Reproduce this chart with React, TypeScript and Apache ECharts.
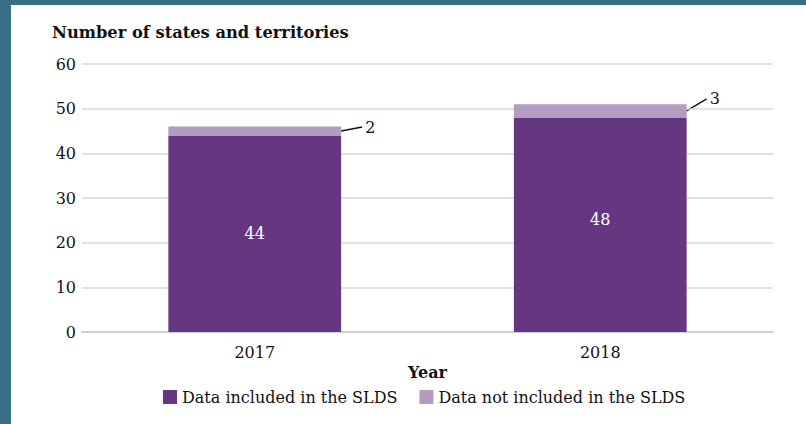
import React, { useEffect, useRef } from "react";
import * as echarts from "echarts";

const years = ["2017", "2018"];
const included = [44, 48];
const notIncluded = [2, 3];

const FONT = "'DejaVu Serif', serif";
const TEAL = "#3a6e86";

export default function App() {
  const ref = useRef<HTMLDivElement>(null);
  useEffect(() => {
    const chart = echarts.init(ref.current!, null, { renderer: "svg" });
    const baseGraphic: any[] = [
      { type: "rect", left: 0, top: 0, shape: { width: 806, height: 5 }, style: { fill: TEAL } },
      { type: "rect", left: 0, top: 0, shape: { width: 11, height: 424 }, style: { fill: TEAL } },
      {
        type: "text",
        left: 52,
        top: 24,
        style: { text: "Number of states and territories", font: "bold 16.3px 'DejaVu Serif', serif", fill: "#111" },
      },
    ];
    chart.setOption({
      animation: false,
      backgroundColor: "#ffffff",
      textStyle: { fontFamily: FONT },
      graphic: baseGraphic,
      grid: { left: 82, right: 33, top: 64, bottom: 92 },
      legend: {
        bottom: 14,
        left: 158,
        itemWidth: 14,
        itemHeight: 14,
        itemGap: 22,
        icon: "rect",
        textStyle: { fontFamily: FONT, fontSize: 16, color: "#111" },
        data: ["Data included in the SLDS", "Data not included in the SLDS"],
      },
      xAxis: {
        type: "category",
        data: years,
        name: "Year",
        nameLocation: "middle",
        nameGap: 28,
        nameTextStyle: { fontFamily: FONT, fontWeight: "bold", fontSize: 16, color: "#111" },
        axisTick: { show: false },
        axisLine: { lineStyle: { color: "#cfcfcf", width: 2 } },
        axisLabel: { fontFamily: FONT, fontSize: 16, color: "#111", margin: 12 },
      },
      yAxis: {
        type: "value",
        min: 0,
        max: 60,
        interval: 10,
        axisLabel: { fontFamily: FONT, fontSize: 16, color: "#111", margin: 6 },
        splitLine: { lineStyle: { color: "#d9d9d9", width: 1.5 } },
        axisLine: { show: false },
        axisTick: { show: false },
      },
      series: [
        {
          name: "Data included in the SLDS",
          type: "bar",
          stack: "total",
          barWidth: "50%",
          data: included,
          itemStyle: { color: "#663781" },
          label: {
            show: true,
            position: "inside",
            color: "#ffffff",
            fontFamily: FONT,
            fontSize: 16,
          },
          labelLayout: (p: any) => (p.dataIndex === 1 ? { dy: -5 } : {}),
        },
        {
          name: "Data not included in the SLDS",
          type: "bar",
          stack: "total",
          barWidth: "50%",
          data: notIncluded,
          itemStyle: { color: "#b39bc1" },
        },
      ],
    });

    // callout lines + labels for the small top segments, placed via the chart's scales
    const offsets = [
      { dx: 21, dy: -4 },
      { dx: 20, dy: -12 },
    ];
    const x0 = chart.convertToPixel({ gridIndex: 0 }, [0, 0]) as number[];
    const x1 = chart.convertToPixel({ gridIndex: 0 }, [1, 0]) as number[];
    const half = (x1[0] - x0[0]) * 0.25;
    const extra: any[] = [];
    years.forEach((_, i) => {
      const mid = included[i] + notIncluded[i] / 2;
      const p = chart.convertToPixel({ gridIndex: 0 }, [i, mid]) as number[];
      const sx = p[0] + half;
      const sy = p[1];
      const ex = sx + offsets[i].dx;
      const ey = sy + offsets[i].dy;
      extra.push({
        type: "line",
        shape: { x1: sx, y1: sy, x2: ex, y2: ey },
        style: { stroke: "#111", lineWidth: 1.3 },
      });
      extra.push({
        type: "text",
        x: ex + 3,
        y: ey,
        style: {
          text: String(notIncluded[i]),
          font: "16px 'DejaVu Serif', serif",
          fill: "#111",
          textVerticalAlign: "middle",
          verticalAlign: "middle",
        },
      });
    });
    chart.setOption({ graphic: baseGraphic.concat(extra) });
    return () => chart.dispose();
  }, []);
  return (
    <div style={{ position: "absolute", left: 0, top: 0, width: 806, height: 424 }}>
      <div ref={ref} style={{ width: 806, height: 424 }} />
    </div>
  );
}
